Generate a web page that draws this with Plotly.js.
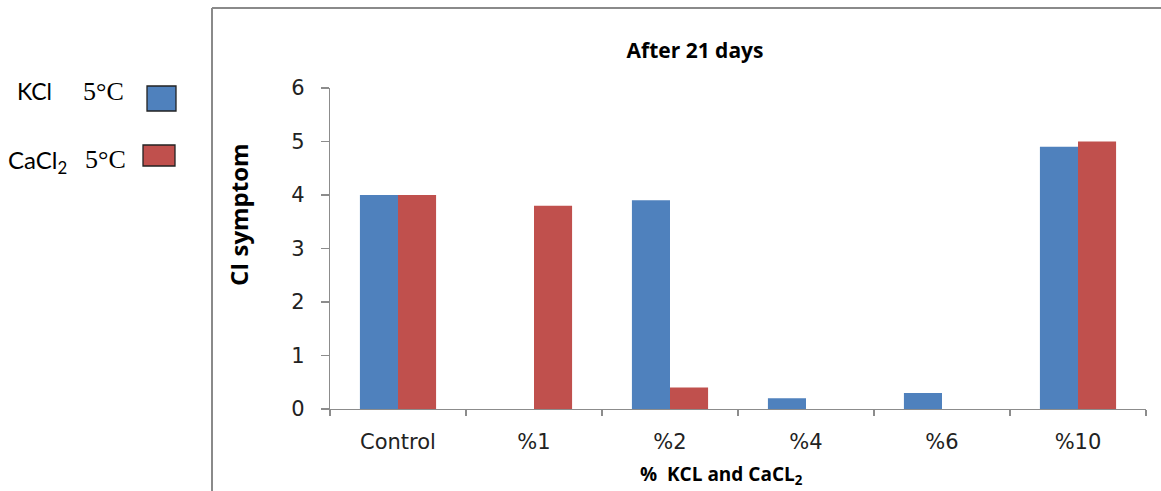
<!DOCTYPE html>
<html>
<head>
<meta charset="utf-8">
<script src="https://cdn.plot.ly/plotly-3.0.1.min.js"></script>
<style>
  html, body { margin: 0; padding: 0; background: #fff; }
  #chart { width: 1161px; height: 491px; }
</style>
</head>
<body>
<div id="chart"></div>
<script>
// Treatments and CI symptom scores after 21 days of storage at 5 °C
const categories = ['Control', '%1', '%2', '%4', '%6', '%10'];
const kclValues = [4.0, 0.0, 3.9, 0.2, 0.3, 4.9];
const cacl2Values = [4.0, 3.8, 0.4, 0.0, 0.0, 5.0];
const yTicks = [0, 1, 2, 3, 4, 5, 6];

const BLUE = '#4F81BD';
const RED = '#C0504D';

// plot area in pixels (used to place the side legend and frame)
const W = 1161, H = 491;
const L = 330, R = 15, T = 88, B = 82;
const pw = W - L - R, ph = H - T - B;
const px = x => (x - L) / pw;
const py = y => (H - B - y) / ph;

const traces = [
  { type: 'bar', name: 'KCl 5°C', x: categories, y: kclValues,
    marker: { color: BLUE, line: { width: 0 } } },
  { type: 'bar', name: 'CaCl2 5°C', x: categories, y: cacl2Values,
    marker: { color: RED, line: { width: 0 } } }
];

const tickFont = { family: 'DejaVu Sans, Verdana, sans-serif', size: 21, color: '#222' };
const boldFamily = 'Open Sans, Lato, sans-serif';

const layout = {
  width: W, height: H,
  margin: { l: L, r: R, t: T, b: B },
  paper_bgcolor: '#fff', plot_bgcolor: '#fff',
  barmode: 'group', bargap: 0.44, bargroupgap: 0,
  showlegend: false,
  title: {
    text: '<b>After 21 days</b>',
    font: { family: boldFamily, size: 21, color: '#000' },
    xref: 'paper', x: px(695), xanchor: 'center',
    yref: 'container', y: 1 - 51 / H, yanchor: 'middle'
  },
  xaxis: {
    type: 'category', tickson: 'boundaries',
    showline: true, linecolor: '#8c8c8c', linewidth: 1.3,
    ticks: 'outside', ticklen: 6, tickcolor: '#8c8c8c', tickwidth: 1.3,
    ticklabelstandoff: 13,
    showgrid: false, zeroline: false,
    tickfont: tickFont
  },
  yaxis: {
    range: [0, 6], tickvals: yTicks, ticktext: yTicks.map(String),
    showline: true, linecolor: '#8c8c8c', linewidth: 1.3,
    ticks: 'outside', ticklen: 8, tickcolor: '#8c8c8c', tickwidth: 1.3,
    ticklabelstandoff: 12,
    showgrid: false, zeroline: false,
    tickfont: tickFont
  },
  annotations: [
    { text: '<b>CI symptom</b>', textangle: -90,
      font: { family: boldFamily, size: 24, color: '#000' },
      xref: 'paper', yref: 'paper', x: px(238), y: py(215),
      xanchor: 'center', yanchor: 'middle', showarrow: false },
    { text: '<b>%  KCL and CaCL<sub>2</sub></b>',
      font: { family: boldFamily, size: 19, color: '#000' },
      xref: 'paper', yref: 'paper', x: px(721), y: py(475),
      xanchor: 'center', yanchor: 'middle', showarrow: false },
    { text: 'KCl', font: { family: 'Lato, Open Sans, sans-serif', size: 23, color: '#000' },
      xref: 'paper', yref: 'paper', x: px(15), y: py(91),
      xanchor: 'left', yanchor: 'middle', showarrow: false },
    { text: '5°C', font: { family: 'Liberation Serif, serif', size: 26, color: '#000' },
      xref: 'paper', yref: 'paper', x: px(81), y: py(91),
      xanchor: 'left', yanchor: 'middle', showarrow: false },
    { text: 'CaCl<sub>2</sub>', font: { family: 'Lato, Open Sans, sans-serif', size: 24, color: '#000' },
      xref: 'paper', yref: 'paper', x: px(6), y: py(161),
      xanchor: 'left', yanchor: 'middle', showarrow: false },
    { text: '5°C', font: { family: 'Liberation Serif, serif', size: 26, color: '#000' },
      xref: 'paper', yref: 'paper', x: px(83), y: py(159),
      xanchor: 'left', yanchor: 'middle', showarrow: false }
  ],
  shapes: [
    // legend swatches
    { type: 'rect', xref: 'paper', yref: 'paper',
      x0: px(147), x1: px(176), y0: py(111), y1: py(86),
      fillcolor: BLUE, line: { color: '#222', width: 1.3 } },
    { type: 'rect', xref: 'paper', yref: 'paper',
      x0: px(143), x1: px(175), y0: py(166), y1: py(145),
      fillcolor: RED, line: { color: '#222', width: 1.3 } },
    // chart frame (left and top edges)
    { type: 'line', xref: 'paper', yref: 'paper',
      x0: px(212), x1: px(212), y0: py(8), y1: py(495),
      line: { color: '#8a8a8a', width: 2 } },
    { type: 'line', xref: 'paper', yref: 'paper',
      x0: px(212), x1: px(1165), y0: py(8), y1: py(8),
      line: { color: '#8a8a8a', width: 2 } }
  ]
};

Plotly.newPlot('chart', traces, layout, { displayModeBar: false, staticPlot: true });
</script>
</body>
</html>
